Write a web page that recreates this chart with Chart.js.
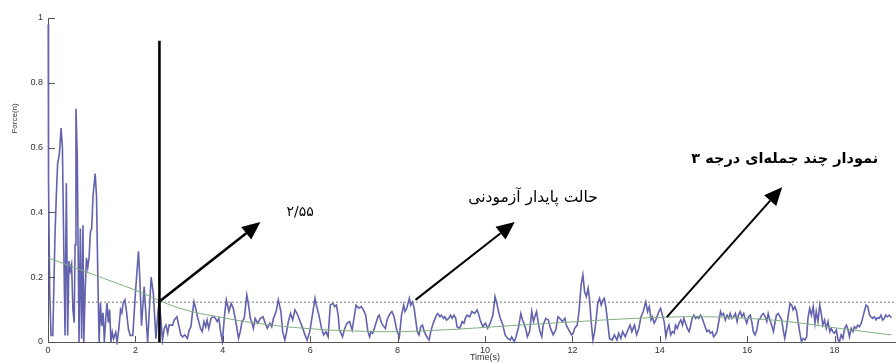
<!DOCTYPE html>
<html>
<head>
<meta charset="utf-8">
<script src="https://cdn.jsdelivr.net/npm/chart.js@4"></script>
<style>
  html, body { margin: 0; padding: 0; background: #fff; overflow: hidden; }
  #wrap { width: 930px; height: 363px; }
</style>
</head>
<body>
<div id="wrap"><canvas id="forceChart" width="930" height="363"></canvas></div>
<script>
const timeValues = [
  0.005, 0.012, 0.04, 0.07, 0.11, 0.16, 0.19, 0.22, 0.26, 0.30, 0.33, 0.36, 0.39, 0.42, 0.45, 0.48,
  0.51, 0.54, 0.57, 0.60, 0.62, 0.64, 0.67, 0.69, 0.71, 0.74, 0.77, 0.80, 0.82, 0.85, 0.88, 0.91,
  0.94, 0.97, 1.00, 1.03, 1.08, 1.11, 1.14, 1.17, 1.20, 1.23, 1.26, 1.29, 1.32, 1.35, 1.38, 1.41,
  1.44, 1.47, 1.50, 1.55, 1.58, 1.62, 1.66, 1.69, 1.72, 1.76, 1.80, 1.84, 1.88, 1.94, 2.00, 2.07,
  2.10, 2.14, 2.20, 2.28, 2.36, 2.41, 2.47, 2.52, 2.55,
  2.62, 2.66, 2.70, 2.74, 2.77, 2.85, 2.89, 2.95, 3.00, 3.04, 3.08, 3.13, 3.19, 3.23, 3.27, 3.30,
  3.34, 3.38, 3.42, 3.45, 3.49, 3.53, 3.57, 3.61, 3.64, 3.68, 3.73, 3.78, 3.83, 3.87, 3.91, 3.95,
  3.99, 4.04, 4.08, 4.14, 4.19, 4.24, 4.29, 4.33, 4.36, 4.40, 4.44, 4.49, 4.55, 4.59, 4.63, 4.67,
  4.70, 4.74, 4.80, 4.86, 4.92, 4.97, 5.02, 5.08, 5.12, 5.16, 5.22, 5.27, 5.33, 5.37, 5.42, 5.46,
  5.50, 5.55, 5.60, 5.65, 5.70, 5.77, 5.83, 5.88, 5.93, 5.99, 6.05, 6.11, 6.14, 6.20, 6.26, 6.31,
  6.36, 6.41, 6.46, 6.52, 6.56, 6.60, 6.64, 6.67, 6.74, 6.79, 6.84, 6.90, 6.96, 7.02, 7.05, 7.11,
  7.17, 7.22, 7.27, 7.32, 7.36, 7.39, 7.43, 7.49, 7.55, 7.58, 7.62, 7.66, 7.72, 7.77, 7.83, 7.87,
  7.92, 7.98, 8.04,
  8.09, 8.14, 8.17, 8.21, 8.27, 8.30, 8.34, 8.38, 8.42, 8.45, 8.49, 8.53, 8.57, 8.61, 8.67, 8.72,
  8.76, 8.80, 8.83, 8.89, 8.92, 8.97, 9.00, 9.05, 9.08, 9.12, 9.17, 9.21, 9.25, 9.29, 9.33, 9.36,
  9.42, 9.48, 9.52, 9.55, 9.59, 9.65, 9.70, 9.76, 9.82, 9.86, 9.89, 9.95, 10.01, 10.06, 10.12, 10.18,
  10.23, 10.27, 10.31, 10.35, 10.41, 10.46, 10.52, 10.58, 10.61, 10.67, 10.71, 10.77, 10.82, 10.86, 10.89, 10.94,
  10.97, 11.02, 11.07, 11.11, 11.14, 11.18, 11.22, 11.26, 11.30, 11.33, 11.39, 11.45, 11.50, 11.56, 11.62, 11.67,
  11.71, 11.77, 11.83, 11.86, 11.92, 11.98, 12.02, 12.05, 12.11, 12.15, 12.20, 12.24, 12.28, 12.32, 12.36, 12.39,
  12.43, 12.47, 12.51, 12.55, 12.58, 12.62, 12.66, 12.70, 12.73, 12.77, 12.81, 12.85, 12.91, 12.96, 13.02, 13.06,
  13.11, 13.15, 13.21, 13.27, 13.32, 13.36, 13.42, 13.47, 13.52, 13.57, 13.62,
  13.68, 13.72, 13.76, 13.80, 13.83, 13.87, 13.91, 13.95, 13.98, 14.02, 14.06, 14.10, 14.14, 14.17, 14.21, 14.25,
  14.29, 14.33, 14.36, 14.40, 14.44, 14.48, 14.52, 14.55, 14.59, 14.63, 14.67, 14.70, 14.74, 14.78, 14.82, 14.86,
  14.89, 14.93, 14.97, 15.01, 15.05, 15.08, 15.12, 15.16, 15.20, 15.23, 15.27, 15.31, 15.35, 15.39, 15.42, 15.46,
  15.50, 15.54, 15.58, 15.61, 15.65, 15.69, 15.73, 15.77, 15.80, 15.84, 15.88, 15.92, 15.95, 15.99, 16.03, 16.07,
  16.11, 16.14, 16.18, 16.22, 16.26, 16.30, 16.33, 16.37, 16.41, 16.45, 16.48, 16.52, 16.56, 16.60, 16.64, 16.67,
  16.71, 16.75, 16.79, 16.83, 16.86, 16.90, 16.94, 16.98, 17.02, 17.05, 17.09, 17.13, 17.17, 17.20, 17.24, 17.28,
  17.32, 17.36, 17.39, 17.43, 17.47, 17.51, 17.55, 17.58, 17.62, 17.66, 17.70, 17.73, 17.77, 17.81, 17.85, 17.89,
  17.92, 17.96, 18.00, 18.04, 18.08, 18.11, 18.15, 18.19, 18.23, 18.27, 18.30, 18.34, 18.38, 18.42, 18.45, 18.49,
  18.53, 18.57, 18.61, 18.64, 18.68, 18.72, 18.76, 18.80, 18.83, 18.87, 18.91, 18.95, 18.98, 19.02, 19.06, 19.10,
  19.14, 19.17, 19.21, 19.25, 19.30
];
const forceValues = [
  0.98, 0.49, 0.15, 0.02, 0.02, 0.33, 0.45, 0.55, 0.58, 0.66, 0.60, 0.30, 0.02, 0.49, 0.02, 0.25,
  0.22, 0.24, 0.10, 0.06, 0.30, 0.72, 0.57, 0.28, 0.00, 0.35, 0.01, 0.36, 0.00, 0.16, 0.26, 0.23,
  0.26, 0.34, 0.35, 0.45, 0.52, 0.45, 0.20, 0.00, 0.12, 0.05, 0.09, 0.00, 0.07, 0.12, 0.06, 0.10,
  0.00, 0.03, 0.01, 0.03, 0.00, 0.04, 0.10, 0.09, 0.12, 0.13, 0.09, 0.04, 0.02, 0.02, 0.15, 0.28,
  0.20, 0.05, 0.17, 0.00, 0.20, 0.15, 0.01, 0.10, 0.125,
  0.006, 0.042, 0.052, 0.027, 0.052, 0.052, 0.068, 0.078, 0.047, 0.022, 0.016, 0.022, 0.011, 0.037, 0.047, 0.083,
  0.124, 0.104, 0.078, 0.063, 0.042, 0.032, 0.063, 0.047, 0.068, 0.042, 0.073, 0.078, 0.073, 0.063, 0.073, 0.032,
  0.001, 0.083, 0.130, 0.094, 0.119, 0.104, 0.068, 0.037, 0.011, 0.032, 0.063, 0.073, 0.145, 0.114, 0.073, 0.058,
  0.042, 0.073, 0.058, 0.073, 0.078, 0.058, 0.042, 0.058, 0.047, 0.073, 0.094, 0.130, 0.094, 0.032, 0.006, 0.032,
  0.063, 0.088, 0.068, 0.099, 0.088, 0.063, 0.042, 0.022, 0.006, 0.032, 0.083, 0.135, 0.114, 0.083, 0.042, 0.022,
  0.032, 0.016, 0.114, 0.119, 0.109, 0.114, 0.083, 0.037, 0.016, 0.042, 0.058, 0.063, 0.037, 0.088, 0.114, 0.104,
  0.109, 0.099, 0.083, 0.032, 0.016, 0.032, 0.027, 0.052, 0.078, 0.083, 0.063, 0.052, 0.042, 0.073, 0.088, 0.094,
  0.078, 0.037, 0.016,
  0.083, 0.114, 0.094, 0.104, 0.135, 0.114, 0.124, 0.104, 0.063, 0.032, 0.022, 0.047, 0.052, 0.032, 0.016, 0.006,
  0.032, 0.052, 0.063, 0.083, 0.088, 0.078, 0.083, 0.073, 0.078, 0.068, 0.073, 0.083, 0.073, 0.083, 0.073, 0.047,
  0.042, 0.063, 0.058, 0.073, 0.083, 0.078, 0.094, 0.088, 0.099, 0.083, 0.068, 0.047, 0.058, 0.042, 0.058, 0.083,
  0.140, 0.119, 0.094, 0.073, 0.052, 0.022, 0.011, 0.006, 0.016, 0.001, 0.016, 0.047, 0.088, 0.068, 0.058, 0.037,
  0.016, 0.032, 0.094, 0.063, 0.078, 0.094, 0.058, 0.032, 0.016, 0.052, 0.073, 0.068, 0.042, 0.022, 0.037, 0.078,
  0.073, 0.063, 0.073, 0.052, 0.037, 0.022, 0.027, 0.042, 0.052, 0.094, 0.176, 0.207, 0.155, 0.140, 0.166, 0.135,
  0.063, 0.006, 0.032, 0.078, 0.119, 0.135, 0.114, 0.130, 0.135, 0.104, 0.058, 0.011, 0.006, 0.022, 0.006, 0.027,
  0.011, 0.032, 0.016, 0.037, 0.052, 0.032, 0.052, 0.022, 0.042, 0.078, 0.094,
  0.124, 0.094, 0.109, 0.068, 0.078, 0.058, 0.068, 0.083, 0.094, 0.104, 0.083, 0.063, 0.016, 0.037, 0.052, 0.022,
  0.032, 0.027, 0.052, 0.042, 0.058, 0.068, 0.052, 0.073, 0.058, 0.042, 0.032, 0.047, 0.073, 0.083, 0.073, 0.078,
  0.073, 0.083, 0.073, 0.058, 0.042, 0.032, 0.037, 0.027, 0.032, 0.016, 0.022, 0.032, 0.063, 0.094, 0.083, 0.088,
  0.068, 0.083, 0.073, 0.088, 0.073, 0.078, 0.088, 0.063, 0.083, 0.094, 0.078, 0.088, 0.073, 0.058, 0.078, 0.083,
  0.058, 0.032, 0.022, 0.037, 0.068, 0.073, 0.083, 0.088, 0.078, 0.063, 0.088, 0.068, 0.052, 0.032, 0.063, 0.083,
  0.088, 0.078, 0.068, 0.032, 0.011, 0.042, 0.083, 0.119, 0.114, 0.099, 0.109, 0.094, 0.058, 0.032, 0.001, 0.011,
  0.006, 0.016, 0.073, 0.104, 0.083, 0.109, 0.058, 0.094, 0.063, 0.114, 0.083, 0.052, 0.068, 0.042, 0.063, 0.032,
  0.042, 0.032, 0.027, 0.037, 0.006, 0.001, 0.022, 0.011, 0.042, 0.052, 0.042, 0.016, 0.042, 0.032, 0.047, 0.042,
  0.052, 0.047, 0.058, 0.073, 0.094, 0.114, 0.109, 0.083, 0.078, 0.073, 0.078, 0.068, 0.075, 0.073, 0.083, 0.068,
  0.073, 0.083, 0.078, 0.083, 0.075
];

// --- 3rd degree polynomial fit, read at a few points ---
const fitTimes = [0, 1, 2, 3, 4, 5, 6, 7, 8, 9, 10, 11, 12, 13, 14, 15, 16, 17, 18, 19, 19.3];
const fitValues = [0.26, 0.21, 0.16, 0.105, 0.075, 0.054, 0.041, 0.034, 0.032, 0.037, 0.045,
                   0.054, 0.062, 0.070, 0.076, 0.078, 0.073, 0.062, 0.044, 0.027, 0.022];

// --- reference levels ---
const steadyLevel = 0.123;          // dashed line
const markerTime = 2.55;            // vertical black line
const markerTop = 0.93;

// --- callouts: arrow [from] -> [tip] in data units, and their labels ---
const arrowFrom = [[2.55, 0.125], [8.41, 0.13], [14.16, 0.077]];
const arrowTip = [[4.86, 0.37], [10.68, 0.37], [16.8, 0.478]];
const calloutLabels = ['۲/۵۵', 'حالت پایدار آزمودنی', 'نمودار چند جمله\u200cای درجه ۳'];
const labelAt = [[5.77, 0.40], [11.1, 0.445], [16.86, 0.565]];

const xMax = 20;

const toPoints = (xs, ys) => xs.map((x, i) => ({ x, y: ys[i] }));

function drawArrow(ctx, x0, y0, x1, y1, width, head) {
  const ang = Math.atan2(y1 - y0, x1 - x0);
  const bx = x1 - head * Math.cos(ang);
  const by = y1 - head * Math.sin(ang);
  ctx.lineWidth = width;
  ctx.beginPath();
  ctx.moveTo(x0, y0);
  ctx.lineTo(bx, by);
  ctx.stroke();
  const w = head * 0.45;
  ctx.beginPath();
  ctx.moveTo(x1, y1);
  ctx.lineTo(bx + w * Math.sin(ang), by - w * Math.cos(ang));
  ctx.lineTo(bx - w * Math.sin(ang), by + w * Math.cos(ang));
  ctx.closePath();
  ctx.fill();
}

const overlay = {
  id: 'overlay',
  afterDatasetsDraw(chart) {
    const { ctx, chartArea, scales: { x, y } } = chart;
    ctx.save();

    // MATLAB style ticks pointing inwards
    ctx.strokeStyle = '#555';
    ctx.lineWidth = 1;
    y.ticks.forEach(t => {
      const py = Math.round(y.getPixelForValue(t.value)) + 0.5;
      ctx.beginPath();
      ctx.moveTo(chartArea.left, py);
      ctx.lineTo(chartArea.left + 7, py);
      ctx.stroke();
    });
    x.ticks.forEach(t => {
      const px = Math.round(x.getPixelForValue(t.value)) + 0.5;
      ctx.beginPath();
      ctx.moveTo(px, chartArea.bottom);
      ctx.lineTo(px, chartArea.bottom - 6);
      ctx.stroke();
    });

    // arrows
    ctx.strokeStyle = '#000';
    ctx.fillStyle = '#000';
    ctx.lineCap = 'butt';
    arrowFrom.forEach((f, i) => {
      const t = arrowTip[i];
      drawArrow(ctx, x.getPixelForValue(f[0]), y.getPixelForValue(f[1]),
                x.getPixelForValue(t[0]), y.getPixelForValue(t[1]), i === 0 ? 2.6 : 2, 18);
    });

    // labels
    ctx.fillStyle = '#000';
    ctx.textAlign = 'center';
    ctx.textBaseline = 'middle';
    ctx.direction = 'rtl';
    const fonts = ['14px "DejaVu Sans"', '15.5px "DejaVu Sans"', 'bold 14.5px "DejaVu Sans"'];
    calloutLabels.forEach((txt, i) => {
      ctx.font = fonts[i];
      ctx.fillText(txt, x.getPixelForValue(labelAt[i][0]), y.getPixelForValue(labelAt[i][1]));
    });

    // y axis title, sits high on the axis as in the original figure
    ctx.direction = 'ltr';
    ctx.font = '8px "Liberation Sans"';
    ctx.fillStyle = '#333';
    ctx.translate(15, y.getPixelForValue(0.69));
    ctx.rotate(-Math.PI / 2);
    ctx.fillText('Force(n)', 0, 0);

    ctx.restore();
  }
};

new Chart(document.getElementById('forceChart'), {
  type: 'line',
  data: {
    datasets: [
      {
        label: 'marker',
        data: [{ x: markerTime, y: 0 }, { x: markerTime, y: markerTop }],
        borderColor: '#000',
        borderWidth: 2.6,
        pointRadius: 0,
      },
      {
        label: 'fit',
        data: toPoints(fitTimes, fitValues),
        borderColor: '#7fae7f',
        borderWidth: 1,
        pointRadius: 0,
        tension: 0.4,
      },
      {
        label: 'force',
        data: toPoints(timeValues, forceValues),
        borderColor: '#6262ae',
        borderWidth: 1.6,
        pointRadius: 0,
        tension: 0,
        clip: 3,
      },
      {
        label: 'steady',
        data: [{ x: 0, y: steadyLevel }, { x: xMax, y: steadyLevel }],
        borderColor: '#777',
        borderWidth: 1,
        borderDash: [2, 2],
        pointRadius: 0,
      },
    ]
  },
  options: {
    responsive: false,
    animation: false,
    parsing: false,
    normalized: true,
    layout: { padding: { top: 18, right: 2, left: 0, bottom: 0 } },
    plugins: {
      legend: { display: false },
      tooltip: { enabled: false },
    },
    scales: {
      x: {
        type: 'linear',
        min: 0,
        max: xMax,
        afterFit: s => { s.height = 21; },
        grid: { display: true, drawOnChartArea: false, drawTicks: false },
        border: { display: true, color: '#555', width: 1 },
        ticks: { stepSize: 2, padding: 3, color: '#333', font: { family: 'Liberation Sans', size: 9 }, maxRotation: 0 },
        title: { display: true, text: 'Time(s)', color: '#333', padding: 0, font: { family: 'Liberation Sans', size: 9 } },
      },
      y: {
        type: 'linear',
        min: 0,
        max: 1,
        afterFit: s => { s.width = 48; },
        grid: { display: true, drawOnChartArea: false, drawTicks: false },
        border: { display: true, color: '#555', width: 1 },
        ticks: {
          stepSize: 0.2, padding: 5, color: '#333', font: { family: 'Liberation Sans', size: 9 },
          callback: v => String(Number(v.toFixed(1))),
        },
      }
    }
  },
  plugins: [overlay]
});
</script>
</body>
</html>
